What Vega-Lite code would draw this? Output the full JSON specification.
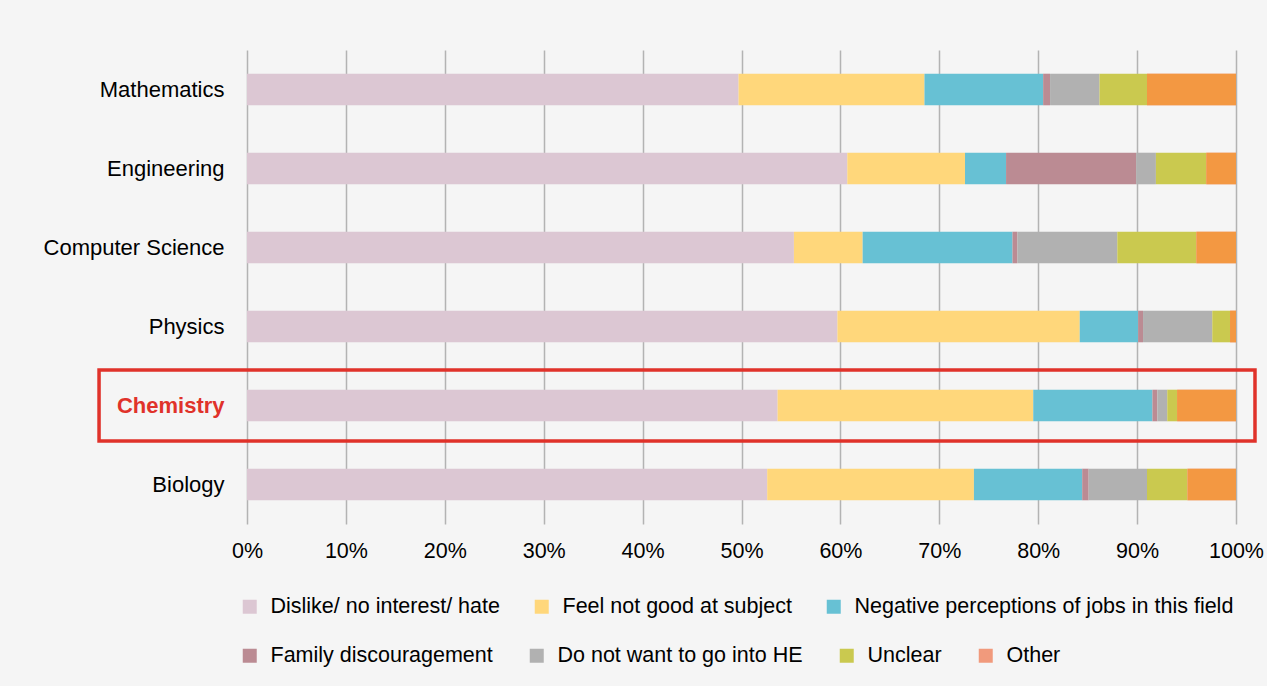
{
  "$schema": "https://vega.github.io/schema/vega-lite/v6.json",
  "width": 989,
  "height": 474,
  "autosize": {"type": "none"},
  "padding": {"left": 247, "top": 50, "right": 31, "bottom": 162},
  "background": "#f5f5f5",
  "config": {
    "view": {"stroke": null},
    "font": "Liberation Sans",
    "axis": {"labelFont": "Liberation Sans", "labelColor": "#000000"},
    "legend": {"labelFont": "Liberation Sans", "labelColor": "#000000"}
  },
  "datasets": {
    "reasons": [
      {"subject": "Mathematics", "reason": "Dislike/ no interest/ hate", "pct": 49.7},
      {"subject": "Mathematics", "reason": "Feel not good at subject", "pct": 18.8},
      {"subject": "Mathematics", "reason": "Negative perceptions of jobs in this field", "pct": 12.0},
      {"subject": "Mathematics", "reason": "Family discouragement", "pct": 0.7},
      {"subject": "Mathematics", "reason": "Do not want to go into HE", "pct": 5.0},
      {"subject": "Mathematics", "reason": "Unclear", "pct": 4.8},
      {"subject": "Mathematics", "reason": "Other", "pct": 9.0},
      {"subject": "Engineering", "reason": "Dislike/ no interest/ hate", "pct": 60.7},
      {"subject": "Engineering", "reason": "Feel not good at subject", "pct": 11.9},
      {"subject": "Engineering", "reason": "Negative perceptions of jobs in this field", "pct": 4.15},
      {"subject": "Engineering", "reason": "Family discouragement", "pct": 13.15},
      {"subject": "Engineering", "reason": "Do not want to go into HE", "pct": 2.0},
      {"subject": "Engineering", "reason": "Unclear", "pct": 5.1},
      {"subject": "Engineering", "reason": "Other", "pct": 3.0},
      {"subject": "Computer Science", "reason": "Dislike/ no interest/ hate", "pct": 55.3},
      {"subject": "Computer Science", "reason": "Feel not good at subject", "pct": 6.95},
      {"subject": "Computer Science", "reason": "Negative perceptions of jobs in this field", "pct": 15.15},
      {"subject": "Computer Science", "reason": "Family discouragement", "pct": 0.5},
      {"subject": "Computer Science", "reason": "Do not want to go into HE", "pct": 10.1},
      {"subject": "Computer Science", "reason": "Unclear", "pct": 8.0},
      {"subject": "Computer Science", "reason": "Other", "pct": 4.0},
      {"subject": "Physics", "reason": "Dislike/ no interest/ hate", "pct": 59.7},
      {"subject": "Physics", "reason": "Feel not good at subject", "pct": 24.5},
      {"subject": "Physics", "reason": "Negative perceptions of jobs in this field", "pct": 5.9},
      {"subject": "Physics", "reason": "Family discouragement", "pct": 0.5},
      {"subject": "Physics", "reason": "Do not want to go into HE", "pct": 7.0},
      {"subject": "Physics", "reason": "Unclear", "pct": 1.8},
      {"subject": "Physics", "reason": "Other", "pct": 0.6},
      {"subject": "Chemistry", "reason": "Dislike/ no interest/ hate", "pct": 53.65},
      {"subject": "Chemistry", "reason": "Feel not good at subject", "pct": 25.85},
      {"subject": "Chemistry", "reason": "Negative perceptions of jobs in this field", "pct": 12.05},
      {"subject": "Chemistry", "reason": "Family discouragement", "pct": 0.5},
      {"subject": "Chemistry", "reason": "Do not want to go into HE", "pct": 1.0},
      {"subject": "Chemistry", "reason": "Unclear", "pct": 1.0},
      {"subject": "Chemistry", "reason": "Other", "pct": 5.95},
      {"subject": "Biology", "reason": "Dislike/ no interest/ hate", "pct": 52.6},
      {"subject": "Biology", "reason": "Feel not good at subject", "pct": 20.9},
      {"subject": "Biology", "reason": "Negative perceptions of jobs in this field", "pct": 10.95},
      {"subject": "Biology", "reason": "Family discouragement", "pct": 0.65},
      {"subject": "Biology", "reason": "Do not want to go into HE", "pct": 5.9},
      {"subject": "Biology", "reason": "Unclear", "pct": 4.1},
      {"subject": "Biology", "reason": "Other", "pct": 4.9}
    ],
    "highlight": [
      {"subject": "Chemistry", "from": -14.96, "to": 101.92}
    ]
  },
  "encoding": {
    "y": {
      "field": "subject",
      "type": "nominal",
      "sort": ["Mathematics", "Engineering", "Computer Science", "Physics", "Chemistry", "Biology"],
      "scale": {"paddingInner": 0.6, "paddingOuter": 0.3},
      "axis": {
        "title": null,
        "domain": false,
        "ticks": false,
        "labelPadding": 23,
        "labelFontSize": 22,
        "labelLimit": 300,
        "labelColor": {"condition": {"test": "datum.value === 'Chemistry'", "value": "#e0322a"}, "value": "#000000"},
        "labelFontWeight": {"condition": {"test": "datum.value === 'Chemistry'", "value": "bold"}, "value": "normal"}
      }
    }
  },
  "layer": [
    {
      "data": {"name": "reasons"},
      "transform": [
        {"calculate": "indexof(['Dislike/ no interest/ hate','Feel not good at subject','Negative perceptions of jobs in this field','Family discouragement','Do not want to go into HE','Unclear','Other'], datum.reason)", "as": "order"},
        {"stack": "pct", "groupby": ["subject"], "sort": [{"field": "order", "order": "ascending"}], "as": ["x0", "x1"]},
        {"filter": {"field": "reason", "oneOf": ["Dislike/ no interest/ hate", "Feel not good at subject", "Negative perceptions of jobs in this field"]}}
      ],
      "mark": {"type": "bar"},
      "encoding": {
        "x": {
          "field": "x0",
          "type": "quantitative",
          "scale": {"domain": [0, 100], "nice": false},
          "axis": {
            "title": null,
            "values": [0, 10, 20, 30, 40, 50, 60, 70, 80, 90, 100],
            "labelExpr": "datum.value + '%'",
            "labelFlush": false,
            "domain": false,
            "ticks": false,
            "labelPadding": 16,
            "labelFontSize": 21.5,
            "grid": true,
            "gridColor": "#b3b3b3",
            "gridWidth": 1.5
          }
        },
        "x2": {"field": "x1"},
        "color": {
          "field": "reason",
          "type": "nominal",
          "scale": {
            "domain": ["Dislike/ no interest/ hate", "Feel not good at subject", "Negative perceptions of jobs in this field"],
            "range": ["#dcc7d3", "#ffd77b", "#67c1d4"]
          },
          "legend": {
            "title": null,
            "orient": "none",
            "legendX": -8,
            "legendY": 546,
            "direction": "horizontal",
            "columns": 3,
            "gridAlign": "none",
            "columnPadding": 31,
            "padding": 0,
            "symbolType": "square",
            "symbolSize": 196,
            "symbolStrokeWidth": 0,
            "labelOffset": 10,
            "labelFontSize": 21.5,
            "labelLimit": 500
          }
        }
      }
    },
    {
      "data": {"name": "reasons"},
      "transform": [
        {"calculate": "indexof(['Dislike/ no interest/ hate','Feel not good at subject','Negative perceptions of jobs in this field','Family discouragement','Do not want to go into HE','Unclear','Other'], datum.reason)", "as": "order"},
        {"stack": "pct", "groupby": ["subject"], "sort": [{"field": "order", "order": "ascending"}], "as": ["x0", "x1"]},
        {"filter": {"field": "reason", "oneOf": ["Family discouragement", "Do not want to go into HE", "Unclear", "Other"]}}
      ],
      "mark": {"type": "bar"},
      "encoding": {
        "x": {"field": "x0", "type": "quantitative"},
        "x2": {"field": "x1"},
        "fill": {
          "field": "reason",
          "type": "nominal",
          "scale": {
            "domain": ["Family discouragement", "Do not want to go into HE", "Unclear", "Other"],
            "range": ["#bb8b93", "#b1b1b1", "#cac94f", "#f19a7c"]
          },
          "legend": {
            "title": null,
            "orient": "none",
            "legendX": -8,
            "legendY": 595,
            "direction": "horizontal",
            "columns": 4,
            "gridAlign": "none",
            "columnPadding": 33,
            "padding": 0,
            "symbolType": "square",
            "symbolSize": 196,
            "symbolStrokeWidth": 0,
            "labelOffset": 10,
            "labelFontSize": 21.5,
            "labelLimit": 500
          }
        }
      }
    },
    {
      "data": {"name": "reasons"},
      "transform": [
        {"calculate": "indexof(['Dislike/ no interest/ hate','Feel not good at subject','Negative perceptions of jobs in this field','Family discouragement','Do not want to go into HE','Unclear','Other'], datum.reason)", "as": "order"},
        {"stack": "pct", "groupby": ["subject"], "sort": [{"field": "order", "order": "ascending"}], "as": ["x0", "x1"]},
        {"filter": {"field": "reason", "equal": "Other"}}
      ],
      "mark": {"type": "bar", "color": "#f39842"},
      "encoding": {
        "x": {"field": "x0", "type": "quantitative"},
        "x2": {"field": "x1"}
      }
    },
    {
      "data": {"name": "highlight"},
      "mark": {"type": "rect", "filled": false, "stroke": "#e0322a", "strokeWidth": 3.5, "height": {"band": 2.25}, "clip": false},
      "encoding": {
        "x": {"field": "from", "type": "quantitative"},
        "x2": {"field": "to"}
      }
    }
  ]
}
